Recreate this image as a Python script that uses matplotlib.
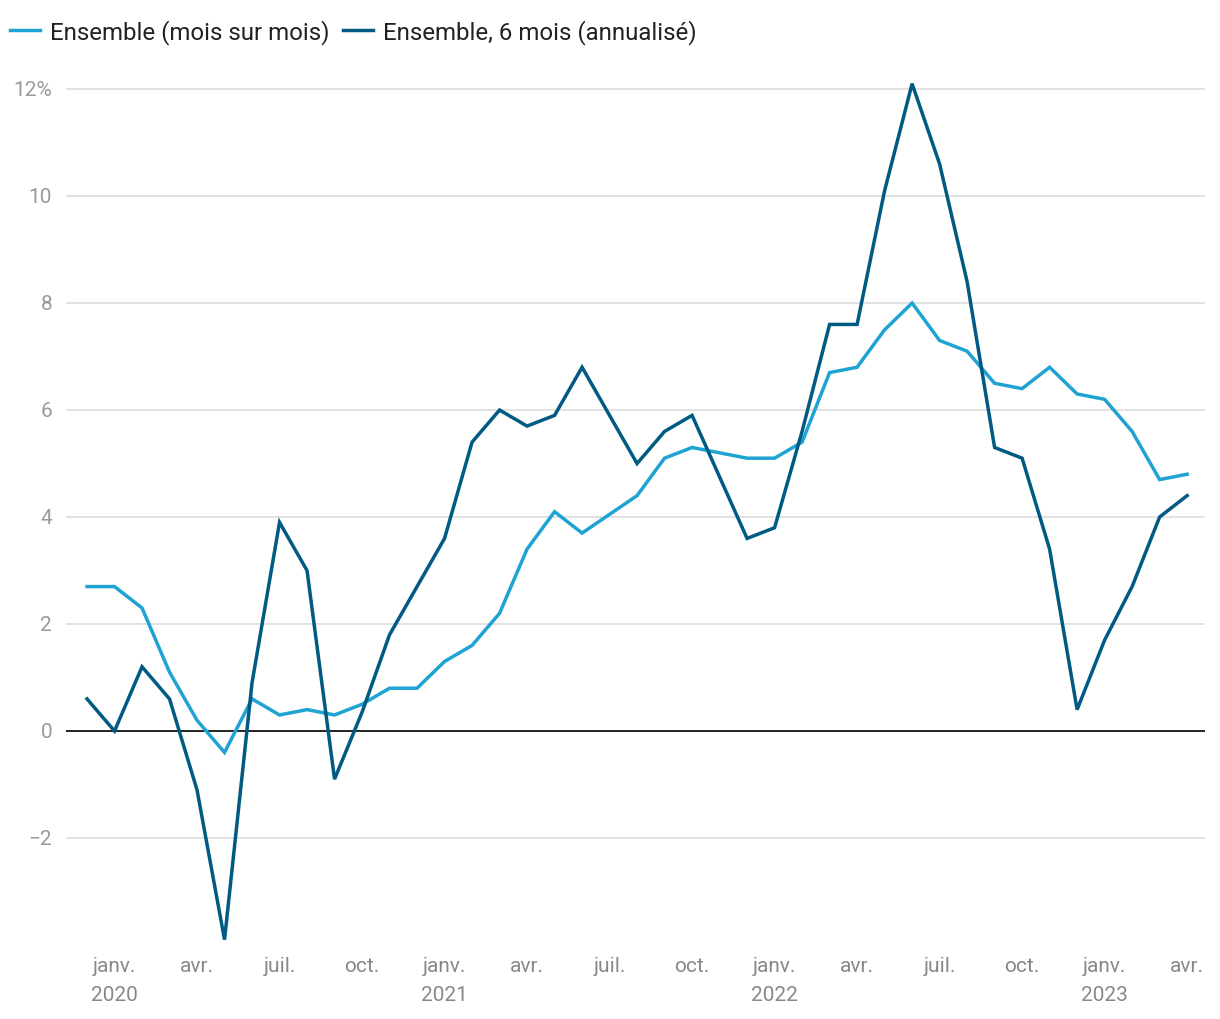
import matplotlib
matplotlib.use("Agg")
import matplotlib.pyplot as plt
import numpy as np

plt.rcParams['font.family'] = ['Roboto', 'DejaVu Sans']

months = ["déc. 2019", "janv. 2020", "févr. 2020", "mars 2020", "avr. 2020", "mai 2020", "juin 2020",
          "juil. 2020", "août 2020", "sept. 2020", "oct. 2020", "nov. 2020", "déc. 2020",
          "janv. 2021", "févr. 2021", "mars 2021", "avr. 2021", "mai 2021", "juin 2021",
          "juil. 2021", "août 2021", "sept. 2021", "oct. 2021", "nov. 2021", "déc. 2021",
          "janv. 2022", "févr. 2022", "mars 2022", "avr. 2022", "mai 2022", "juin 2022",
          "juil. 2022", "août 2022", "sept. 2022", "oct. 2022", "nov. 2022", "déc. 2022",
          "janv. 2023", "févr. 2023", "mars 2023", "avr. 2023"]

mois_sur_mois = [2.7, 2.7, 2.3, 1.1, 0.2, -0.4, 0.6, 0.3, 0.4, 0.3, 0.5, 0.8, 0.8,
                 1.3, 1.6, 2.2, 3.4, 4.1, 3.7, 4.05, 4.4, 5.1, 5.3, 5.2, 5.1,
                 5.1, 5.4, 6.7, 6.8, 7.5, 8.0, 7.3, 7.1, 6.5, 6.4, 6.8, 6.3,
                 6.2, 5.6, 4.7, 4.8]

six_mois = [0.6, 0.0, 1.2, 0.6, -1.1, -3.9, 0.9, 3.9, 3.0, -0.9, 0.35, 1.8, 2.7,
            3.6, 5.4, 6.0, 5.7, 5.9, 6.8, 5.9, 5.0, 5.6, 5.9, 4.75, 3.6,
            3.8, 5.6, 7.6, 7.6, 10.1, 12.1, 10.6, 8.4, 5.3, 5.1, 3.4, 0.4,
            1.7, 2.7, 4.0, 4.4]

series_names = ["Ensemble (mois sur mois)", "Ensemble, 6 mois (annualisé)"]
colors = ["#1ea3d2", "#005a82"]

tick_idx = [1, 4, 7, 10, 13, 16, 19, 22, 25, 28, 31, 34, 37, 40]
tick_labels = ["janv.\n2020", "avr.", "juil.", "oct.", "janv.\n2021", "avr.", "juil.", "oct.",
               "janv.\n2022", "avr.", "juil.", "oct.", "janv.\n2023", "avr."]

y_ticks = [-2, 0, 2, 4, 6, 8, 10, 12]
y_tick_labels = ["−2", "0", "2", "4", "6", "8", "10", "12%"]

W, H = 1220, 1020
fig = plt.figure(figsize=(W / 100, H / 100), dpi=100)
left, right, top, bottom = 66, 1205, 74, 946
ax = fig.add_axes([left / W, 1 - bottom / H, (right - left) / W, (bottom - top) / H])

x = np.arange(len(months))
ax.plot(x, mois_sur_mois, color=colors[0], lw=2.5, label=series_names[0], solid_joinstyle='miter', zorder=3)
ax.plot(x, six_mois, color=colors[1], lw=2.5, label=series_names[1], solid_joinstyle='miter', zorder=4)

ax.set_xlim(-0.764, 40.65)
ax.set_ylim(-4, 12.3)

for yv in y_ticks:
    if yv == 0:
        ax.axhline(0, color="#111111", lw=1.3, zorder=2)
    else:
        ax.axhline(yv, color="#e2e2e2", lw=1.4, zorder=1)

ax.set_yticks(y_ticks)
ax.set_yticklabels(y_tick_labels)
ax.set_xticks(tick_idx)
ax.set_xticklabels(tick_labels, linespacing=1.65)
ax.tick_params(axis='y', length=0, pad=10, labelsize=15, labelcolor="#9a9a9a")
ax.tick_params(axis='x', length=0, pad=8, labelsize=15, labelcolor="#888888")
for lbl in ax.get_yticklabels():
    lbl.set_va('center')
for lbl in ax.get_xticklabels():
    lbl.set_va('top')

for s in ax.spines.values():
    s.set_visible(False)

fig.legend(loc='upper left', bbox_to_anchor=(10 / W, 1 - 20 / H), ncol=2, frameon=False,
           fontsize=17.3, handlelength=1.25, handletextpad=0.42, columnspacing=0.55,
           borderpad=0, borderaxespad=0, labelcolor="#222222")

fig.savefig("out.png", dpi=100, facecolor="white")
